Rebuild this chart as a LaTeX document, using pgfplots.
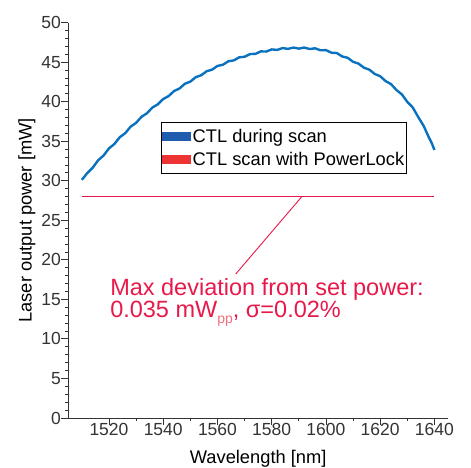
\documentclass[border=0pt]{standalone}
\usepackage{fontspec}
\setmainfont{Liberation Sans}
\usepackage{pgfplots}
\pgfplotsset{compat=1.18}

\definecolor{curveblue}{HTML}{0A71BE}
\definecolor{legblue}{HTML}{1F5CAE}
\definecolor{legred}{HTML}{EE3333}
\definecolor{lockred}{HTML}{E8194A}
\definecolor{ppred}{HTML}{F2707F}
\definecolor{ticktext}{HTML}{333333}

\begin{document}
\begin{tikzpicture}
\useasboundingbox (-68.3pt,-50pt) rectangle (402.7pt,418pt);
\begin{axis}[
	scale only axis,
	width=379.7pt, height=395.3pt,
	at={(0pt,0pt)}, anchor=south west,
	axis x line*=bottom, axis y line*=left,
	axis line style={-, line width=0.9pt, ticktext},
	xmin=1505, xmax=1645,
	ymin=0, ymax=50,
	xtick={1520,1540,...,1640},
	ytick={0,5,...,50},
	minor x tick num=1,
	minor y tick num=4,
	tick align=outside,
	major tick length=7pt,
	minor tick length=3.5pt,
	tick style={line width=0.9pt, ticktext},
	ticklabel style={font=\fontsize{17.5}{17.5}\selectfont, text=ticktext},
	xticklabel style={yshift=5pt},
	yticklabel style={xshift=3pt},
	/pgf/number format/assume math mode=true,
	/pgf/number format/1000 sep={},
	xlabel={Wavelength [nm]},
	ylabel={Laser output power [mW]},
	label style={font=\fontsize{18.3}{18.3}\selectfont, text=black},
	xlabel style={yshift=-7pt},
	ylabel style={yshift=-1pt},
	legend style={at={(0.244,0.748)}, anchor=north west,
		draw=black, line width=0.8pt,
		font=\fontsize{18.3}{18.3}\selectfont,
		inner xsep=1pt, inner ysep=4pt, row sep=3pt,
		nodes={inner xsep=1.5pt, inner ysep=2.5pt}},
	legend cell align=left,
]
% red PowerLock line
\addplot[lockred, line width=1.4pt, forget plot] coordinates {(1510,28.0) (1640,28.0)};
% blue scan curve
\addplot[curveblue, line width=2.4pt, forget plot] coordinates {
(1510,30.12) (1512,30.98) (1514,31.66) (1516,32.60) (1518,33.20) (1520,34.10)
(1522,34.66) (1524,35.52) (1526,36.03) (1528,36.86) (1530,37.33) (1532,38.10)
(1534,38.54) (1536,39.27) (1538,39.68) (1540,40.35) (1542,40.72) (1544,41.36)
(1546,41.68) (1548,42.28) (1550,42.55) (1552,43.11) (1554,43.35) (1556,43.86)
(1558,44.06) (1560,44.53) (1562,44.68) (1564,45.12) (1566,45.23) (1568,45.62)
(1570,45.69) (1572,46.03) (1574,46.06) (1576,46.37) (1578,46.35) (1580,46.62)
(1582,46.56) (1584,46.79) (1586,46.69) (1588,46.86) (1590,46.72) (1592,46.86)
(1594,46.67) (1596,46.76) (1598,46.51) (1600,46.53) (1602,46.21) (1604,46.16)
(1606,45.73) (1608,45.56) (1610,45.05) (1612,44.83) (1614,44.31) (1616,44.06)
(1618,43.51) (1620,43.23) (1622,42.61) (1624,42.23) (1626,41.48) (1628,40.93)
(1630,39.98) (1632,39.28) (1634,38.08) (1636,36.96) (1638,35.45) (1639,34.78)
(1640,33.90)
};
\addlegendimage{legend image code/.code={\fill[legblue] (0pt,-4pt) rectangle (28pt,4pt);}}
\addlegendentry{CTL during scan}
\addlegendimage{legend image code/.code={\fill[legred] (0pt,-4pt) rectangle (28pt,4pt);}}
\addlegendentry{CTL scan with PowerLock}
% annotation
\draw[lockred, line width=0.9pt] (axis cs:1591.1,28) -- (axis cs:1566.7,18.2);
\node[anchor=base west, inner sep=0pt, text=lockred, font=\fontsize{23.5}{23.5}\selectfont]
	at (axis cs:1520.4,15.5) {Max deviation from set power:};
\node[anchor=base west, inner sep=0pt, text=lockred, font=\fontsize{23.5}{23.5}\selectfont]
	at (axis cs:1520.4,12.66) {0.035 mW\raisebox{-6pt}{\textcolor{ppred}{\fontsize{14}{14}\selectfont pp}}, σ=0.02\%};
\end{axis}
\end{tikzpicture}
\end{document}
